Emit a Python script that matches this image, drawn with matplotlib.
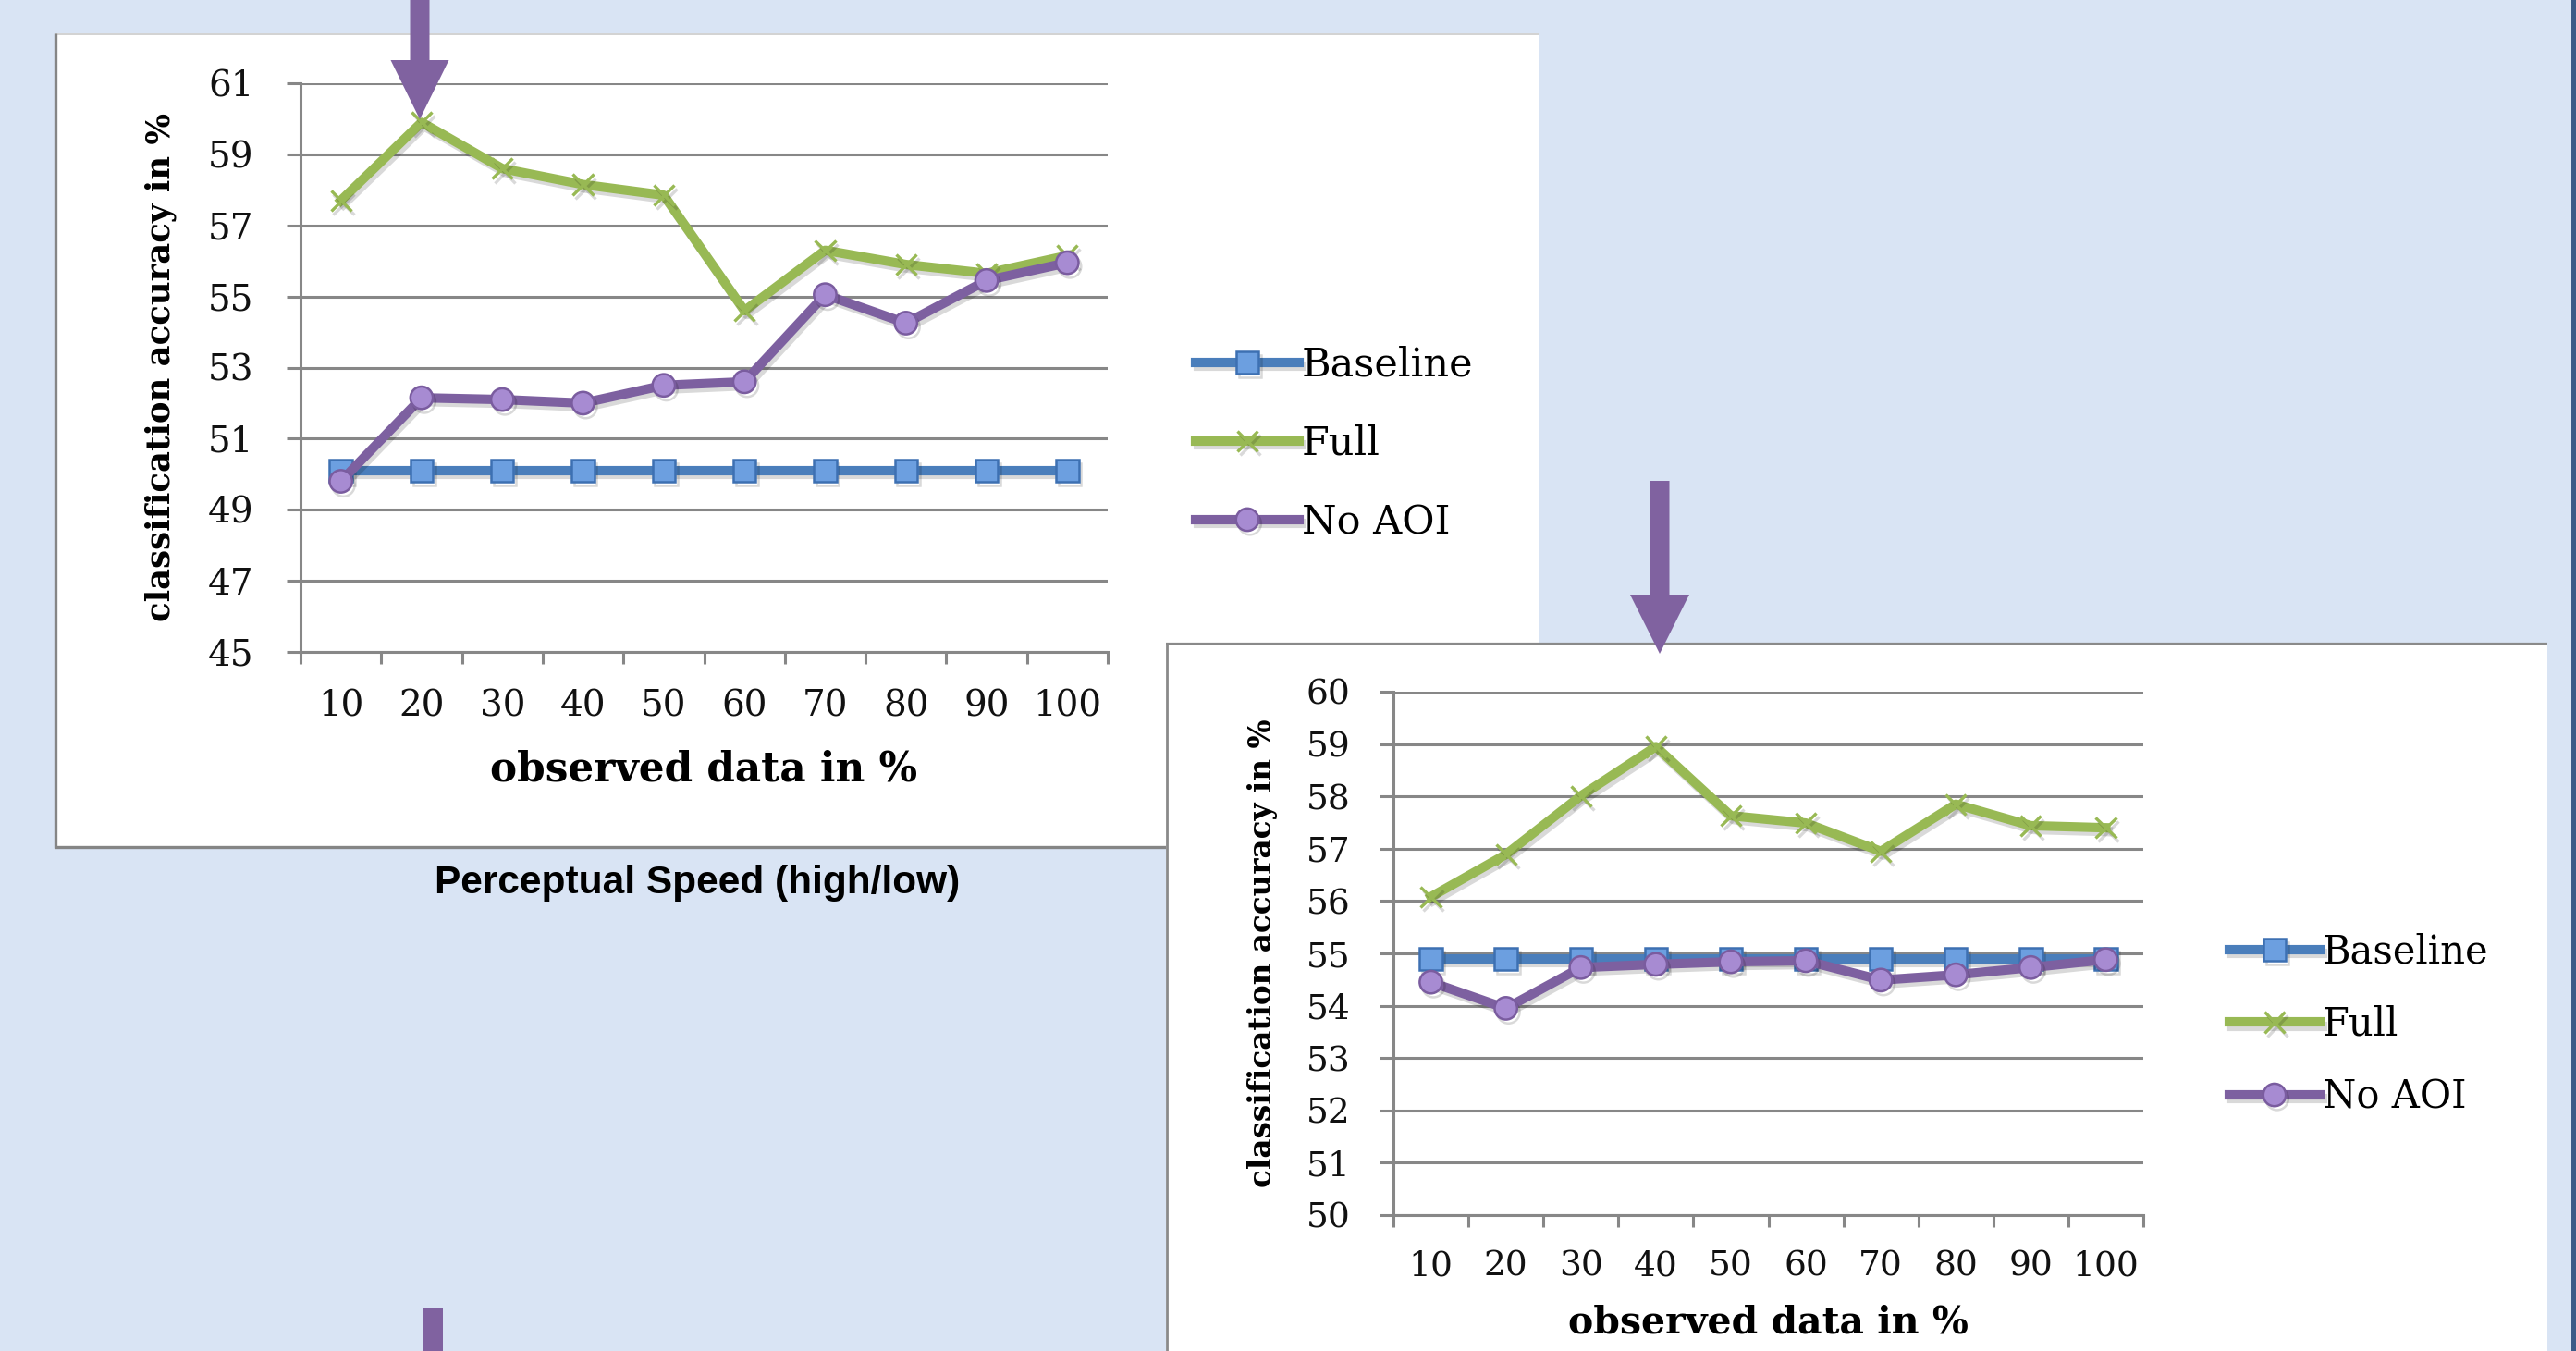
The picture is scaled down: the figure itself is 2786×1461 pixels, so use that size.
import numpy as np
import matplotlib
matplotlib.use("Agg")
import matplotlib.pyplot as plt
from matplotlib.patches import Rectangle, Polygon
from matplotlib.lines import Line2D
import matplotlib.patheffects as pe

# ---------------- data ----------------
categories = ["10", "20", "30", "40", "50", "60", "70", "80", "90", "100"]

ps_baseline = [50.1, 50.1, 50.1, 50.1, 50.1, 50.1, 50.1, 50.1, 50.1, 50.1]
ps_full = [57.7, 59.9, 58.6, 58.15, 57.85, 54.6, 56.3, 55.9, 55.65, 56.15]
ps_noaoi = [49.8, 52.15, 52.1, 52.0, 52.5, 52.6, 55.05, 54.25, 55.45, 55.95]

p2_baseline = [54.9, 54.9, 54.9, 54.9, 54.9, 54.9, 54.9, 54.9, 54.9, 54.9]
p2_full = [56.08, 56.89, 58.01, 58.95, 57.63, 57.49, 56.95, 57.85, 57.44, 57.40]
p2_noaoi = [54.45, 53.95, 54.73, 54.79, 54.84, 54.86, 54.49, 54.59, 54.73, 54.88]

series_names = ["Baseline", "Full", "No AOI"]
caption = "Perceptual Speed (high/low)"
xlabel = "observed data in %"
ylabel = "classification accuracy in %"

# ---------------- style ----------------
W, H = 2786, 1461
BG = "#D9E4F4"
GRID = "#878787"
C_BLUE, C_GREEN, C_PURPLE = "#4A7EBB", "#98B954", "#7D60A0"
ARROW = "#8062A0"

plt.rcParams["font.family"] = ["DejaVu Serif"]

fig = plt.figure(figsize=(W / 100, H / 100), dpi=100, facecolor=BG)


def fx(x):
    return x / W


def fy(y):
    return 1 - y / H


def add_rect(x0, y0, x1, y1, color, z):
    fig.patches.append(Rectangle((fx(x0), fy(y1)), fx(x1 - x0), (y1 - y0) / H,
                                 transform=fig.transFigure, fc=color, ec="none", zorder=z))


def add_line(xs, ys, color, lw, z):
    fig.lines.append(Line2D([fx(v) for v in xs], [fy(v) for v in ys],
                            transform=fig.transFigure, color=color, lw=lw, zorder=z,
                            solid_capstyle="butt"))


def add_arrow(cx, y_top, y_head, y_tip, shaft_w, head_w, z=20):
    pts = [(cx - shaft_w / 2, y_top), (cx + shaft_w / 2, y_top), (cx + shaft_w / 2, y_head),
           (cx + head_w / 2, y_head), (cx, y_tip), (cx - head_w / 2, y_head),
           (cx - shaft_w / 2, y_head)]
    fig.patches.append(Polygon([(fx(a), fy(b)) for a, b in pts], closed=True,
                               transform=fig.transFigure, fc=ARROW, ec="none", zorder=z))


# panel backgrounds
add_rect(59, 36, 1665, 916, "white", -10)
add_line([59, 1665], [36.5, 36.5], "#CBCBCB", 1.2, -9.5)
add_line([60, 60], [36, 917], "#858585", 2.4, -9.5)
add_line([59, 1665], [916, 916], "#858585", 2.4, -9.5)

add_rect(1261, 695, 2755, 1470, "white", -8)
add_line([1261, 2755], [695.5, 695.5], "#8A8A8A", 1.6, -7.5)
add_line([1261.5, 1261.5], [695, 1470], "#8A8A8A", 2.0, -7.5)

add_rect(2781, 0, 2786, 1461, "#3B5B88", -7)

shadow = [pe.SimpleLineShadow(offset=(2, -3), shadow_color="black", alpha=0.15), pe.Normal()]


def draw_panel(rect, yvals, ylim, yticks, tick_fs, lab_fs, ylab_fs, leg_fs,
               ylab_x, xlab_y, xpad, ypad, leg_anchor, handlelen, labsp):
    ax = fig.add_axes(rect)
    ax.patch.set_visible(False)
    x = np.arange(len(categories))
    b, f, n = yvals
    ax.plot(x, b, color=C_BLUE, lw=7.3, marker="s", ms=17.5, mfc="#6C9FE0", mec="#3D70B2",
            mew=1.8, label=series_names[0], path_effects=shadow, zorder=3)
    ax.plot(x, f, color=C_GREEN, lw=7.3, marker="x", ms=16, mec=C_GREEN, mew=2.4,
            label=series_names[1], path_effects=shadow, zorder=4)
    ax.plot(x, n, color=C_PURPLE, lw=7.3, marker="o", ms=17.5, mfc="#A78BD2", mec="#7A5C9F",
            mew=1.8, label=series_names[2], path_effects=shadow, zorder=5)

    ax.set_xlim(-0.5, len(categories) - 0.5)
    ax.set_ylim(*ylim)
    ax.set_yticks(yticks)
    ax.set_yticklabels([str(v) for v in yticks])
    ax.set_xticks(np.arange(len(categories) + 1) - 0.5)
    ax.set_xticklabels([""] * (len(categories) + 1))
    ax.set_xticks(x, minor=True)
    ax.set_xticklabels(categories, minor=True)

    ax.yaxis.grid(True, color=GRID, lw=2.2)
    ax.set_axisbelow(True)
    for s in ["top", "right"]:
        ax.spines[s].set_visible(False)
    for s in ["left", "bottom"]:
        ax.spines[s].set_color(GRID)
        ax.spines[s].set_linewidth(2.2)

    ax.tick_params(axis="y", length=10.5, width=2.2, color=GRID, labelsize=tick_fs,
                   pad=ypad, labelcolor="#111111")
    ax.tick_params(axis="x", which="major", length=9, width=2.2, color=GRID, direction="out")
    ax.tick_params(axis="x", which="minor", length=0, labelsize=tick_fs, pad=xpad,
                   labelcolor="#111111")

    ax.set_xlabel(xlabel, fontsize=lab_fs, fontweight="bold")
    ax.xaxis.set_label_coords(0.5, xlab_y)
    ax.xaxis.label.set_va("center")
    ax.set_ylabel(ylabel, fontsize=ylab_fs, fontweight="bold")
    ax.yaxis.set_label_coords(ylab_x, 0.5)
    ax.yaxis.label.set_va("center")

    ax.legend(loc="center left", bbox_to_anchor=leg_anchor,
              bbox_transform=fig.transFigure, frameon=False, fontsize=leg_fs,
              handlelength=handlelen, handletextpad=0.07, labelspacing=labsp,
              borderpad=0, borderaxespad=0, numpoints=1)
    return ax


# Panel 1 (Perceptual Speed)
draw_panel([fx(325), fy(705), fx(1198 - 325), (705 - 90) / H],
           (ps_baseline, ps_full, ps_noaoi), (45, 61), list(range(45, 62, 2)),
           28, 31.5, 25.5, 31, -0.173, -0.2065, 29, 26,
           (fx(1293), fy(480)), 2.6, 1.0)

# Panel 2
draw_panel([fx(1507), fy(1314), fx(2318 - 1507), (1314 - 748) / H],
           (p2_baseline, p2_full, p2_noaoi), (50, 60), list(range(50, 61, 1)),
           27, 29.5, 23.5, 30, -0.175, -0.205, 27, 23,
           (fx(2411), fy(1108)), 2.35, 0.88)

fig.text(fx(754), fy(955), caption, family=["Liberation Sans", "DejaVu Sans"],
         weight="bold", fontsize=30.5, ha="center", va="center", color="black")

# arrows
add_arrow(454, -5, 65, 129, 21, 63)
add_arrow(1795, 520, 643, 707, 21, 64)
add_arrow(468, 1414, 1500, 1520, 22, 64)

fig.savefig("out.png", dpi=100, facecolor=BG)
